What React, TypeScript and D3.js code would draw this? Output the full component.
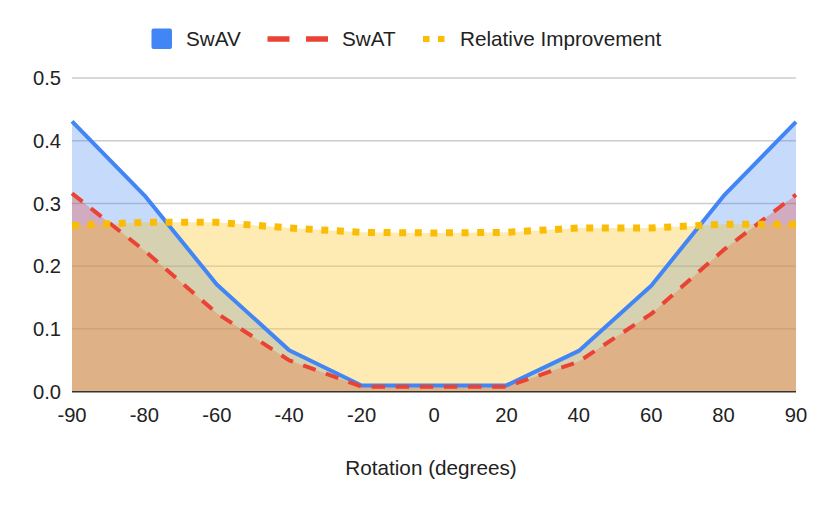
import React from "react";
import * as d3 from "d3";

const categories = ["-90", "-80", "-60", "-40", "-20", "0", "20", "40", "60", "80", "90"];
const swav = [0.431, 0.313, 0.171, 0.066, 0.010, 0.010, 0.010, 0.065, 0.169, 0.312, 0.430];
const swat = [0.316, 0.225, 0.125, 0.050, 0.008, 0.008, 0.008, 0.048, 0.124, 0.226, 0.314];
const relImprovement = [0.265, 0.270, 0.270, 0.261, 0.254, 0.253, 0.254, 0.261, 0.261, 0.267, 0.267];
const yTicks = [0, 0.1, 0.2, 0.3, 0.4, 0.5];

const W = 822;
const H = 507;
const FONT = "'Liberation Sans', Arial, sans-serif";

export default function App() {
  const x = d3.scalePoint<string>().domain(categories).range([72, 796]).padding(0);
  const y = d3.scaleLinear().domain([0, 0.5]).range([391.7, 78]);

  const series = [
    { name: "SwAV", values: swav, color: "#4285F4", dash: undefined as string | undefined, width: 4 },
    { name: "SwAT", values: swat, color: "#EA4335", dash: "13.3 10.8", width: 4 },
    { name: "Relative Improvement", values: relImprovement, color: "#FBBC04", dash: "7 8.6", width: 7 },
  ];

  const area = d3
    .area<number>()
    .x((_, i) => x(categories[i]) as number)
    .y0(y(0))
    .y1((d) => y(d));
  const line = d3
    .line<number>()
    .x((_, i) => x(categories[i]) as number)
    .y((d) => y(d));

  return (
    <svg
      width={W}
      height={H}
      style={{ position: "absolute", left: 0, top: 0, background: "#fff" }}
      fontFamily={FONT}
    >
      <rect x={0} y={0} width={W} height={H} fill="#fff" />
      {yTicks.slice(1).map((t) => (
        <line key={t} x1={72} x2={796} y1={y(t)} y2={y(t)} stroke="#cccccc" strokeWidth={1.3} />
      ))}
      {series.map((s) => (
        <path key={s.name + "a"} d={area(s.values) || ""} fill={s.color} fillOpacity={0.3} />
      ))}
      <line x1={72} x2={796} y1={y(0)} y2={y(0)} stroke="#333333" strokeWidth={1.5} />
      {series.map((s) => (
        <path
          key={s.name + "l"}
          d={line(s.values) || ""}
          fill="none"
          stroke={s.color}
          strokeWidth={s.width}
          strokeDasharray={s.dash}
          strokeLinejoin="round"
        />
      ))}
      {yTicks.map((t) => (
        <text key={t} x={61} y={y(t)} dy="0.36em" textAnchor="end" fontSize={20.2} fill="#222">
          {t.toFixed(1)}
        </text>
      ))}
      {categories.map((c) => (
        <text key={c} x={x(c) as number} y={422} textAnchor="middle" fontSize={20.2} fill="#222">
          {c}
        </text>
      ))}
      <text x={431} y={475} textAnchor="middle" fontSize={20.7} fill="#222">
        Rotation (degrees)
      </text>
      <rect x={151.5} y={28.5} width={20.5} height={20.5} rx={2} fill="#4285F4" />
      <text x={186} y={39} dy="0.36em" fontSize={20.7} fill="#222">
        SwAV
      </text>
      <line x1={267.5} x2={328} y1={39} y2={39} stroke="#EA4335" strokeWidth={5.5} strokeDasharray="22 16.5" />
      <text x={342} y={39} dy="0.36em" fontSize={20.7} fill="#222">
        SwAT
      </text>
      <line x1={423} x2={445} y1={39} y2={39} stroke="#FBBC04" strokeWidth={6} strokeDasharray="6.5 8.5" />
      <text x={460} y={39} dy="0.36em" fontSize={20.7} fill="#222">
        Relative Improvement
      </text>
    </svg>
  );
}
